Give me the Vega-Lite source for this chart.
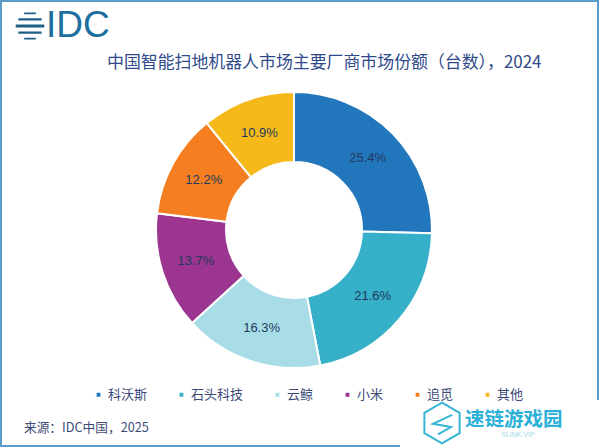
{
  "$schema": "https://vega.github.io/schema/vega-lite/v6.json",
  "width": 588,
  "height": 438,
  "padding": {"left": 0, "right": 12, "top": 11, "bottom": -1},
  "autosize": "none",
  "background": "white",
  "title": {
    "text": "中国智能扫地机器人市场主要厂商市场份额（台数），2024",
    "anchor": "start",
    "dx": 107,
    "offset": -72,
    "font": "Noto Sans CJK SC",
    "fontSize": 16.9,
    "fontWeight": 400,
    "color": "#2f4a8a"
  },
  "data": {
    "values": [
      {"vendor": "科沃斯", "share": 25.4, "rank": 1, "label": "25.4%"},
      {"vendor": "石头科技", "share": 21.6, "rank": 2, "label": "21.6%"},
      {"vendor": "云鲸", "share": 16.3, "rank": 3, "label": "16.3%"},
      {"vendor": "小米", "share": 13.7, "rank": 4, "label": "13.7%"},
      {"vendor": "追觅", "share": 12.2, "rank": 5, "label": "12.2%"},
      {"vendor": "其他", "share": 10.9, "rank": 6, "label": "10.9%"}
    ]
  },
  "layer": [
    {
      "mark": {"type": "arc", "outerRadius": 138, "innerRadius": 68, "stroke": "white", "strokeWidth": 2},
      "encoding": {
        "theta": {"field": "share", "type": "quantitative", "stack": true},
        "order": {"field": "rank"},
        "color": {
          "field": "vendor",
          "type": "nominal",
          "sort": null,
          "scale": {
            "domain": ["科沃斯", "石头科技", "云鲸", "小米", "追觅", "其他"],
            "range": ["#2176bc", "#36afc8", "#a8dde8", "#9b3590", "#f57f20", "#f5b91a"]
          },
          "legend": {
            "orient": "none",
            "legendX": 92,
            "legendY": 377,
            "direction": "horizontal",
            "columns": 6,
            "title": null,
            "symbolType": "square",
            "symbolSize": 28,
            "labelFont": "Noto Sans CJK SC",
            "labelFontSize": 13,
            "labelColor": "#3b4a78",
            "labelOffset": 3,
            "columnPadding": 27
          }
        }
      }
    },
    {
      "mark": {"type": "text", "radius": 103, "font": "Liberation Sans", "fontSize": 13, "color": "#223a5e"},
      "encoding": {
        "theta": {"field": "share", "type": "quantitative", "stack": true},
        "order": {"field": "rank"},
        "text": {"field": "label"}
      }
    },
    {
      "data": {"values": [{"note": "frame"}]},
      "mark": {"type": "rect", "x": 1, "y": -10, "x2": 598, "y2": 435, "fill": null, "stroke": "#5b9bc9", "strokeWidth": 2}
    },
    {
      "data": {"values": [{"note": "watermark"}]},
      "mark": {"type": "rect", "x": 400, "y": 389, "x2": 600, "y2": 437, "fill": "white"}
    },
    {
      "data": {"values": [{"note": "来源：IDC中国，2025"}]},
      "mark": {"type": "text", "x": 24, "y": 417, "align": "left", "baseline": "middle", "font": "Noto Sans CJK SC", "fontSize": 12.7, "color": "#3b4a78"},
      "encoding": {"text": {"field": "note"}}
    },
    {
      "data": {"values": [{"note": "IDC"}]},
      "mark": {"type": "text", "x": 46, "y": 15, "align": "left", "baseline": "middle", "font": "Liberation Sans", "fontSize": 37, "color": "#1c6f9f"},
      "encoding": {"text": {"field": "note"}}
    },
    {
      "data": {"values": [{"note": "globe"}]},
      "mark": {
        "type": "point",
        "x": 30,
        "y": 15,
        "size": 3400,
        "filled": true,
        "opacity": 1,
        "color": "#1f5f86",
        "shape": "M-0.2,-0.46H0.2V-0.4H-0.2Z M-0.4,-0.27H0.4V-0.19H-0.4Z M-0.49,-0.05H0.49V0.05H-0.49Z M-0.4,0.19H0.4V0.27H-0.4Z M-0.2,0.4H0.2V0.46H-0.2Z"
      }
    },
    {
      "data": {"values": [{"note": "速链游戏园"}]},
      "mark": {"type": "text", "x": 465, "y": 409, "align": "left", "baseline": "middle", "font": "Noto Sans CJK SC", "fontSize": 19.5, "fontWeight": 700, "color": "#2bb0d8"},
      "encoding": {"text": {"field": "note"}}
    },
    {
      "data": {"values": [{"note": "SLINK.VIP"}]},
      "mark": {"type": "text", "x": 518, "y": 424, "align": "center", "baseline": "middle", "font": "Liberation Sans", "fontSize": 7, "color": "#9fd8ea"},
      "encoding": {"text": {"field": "note"}}
    },
    {
      "data": {"values": [{"note": "icon"}]},
      "mark": {
        "type": "point",
        "x": 442,
        "y": 412,
        "size": 6700,
        "filled": false,
        "opacity": 1,
        "color": "#35b6d6",
        "strokeWidth": 2,
        "shape": "M0,-0.5L0.43,-0.25V0.25L0,0.5L-0.43,0.25V-0.25Z M0.25,-0.2L-0.22,0.02L0.22,0.1L-0.1,0.28"
      }
    }
  ],
  "config": {"view": {"stroke": null}}
}
